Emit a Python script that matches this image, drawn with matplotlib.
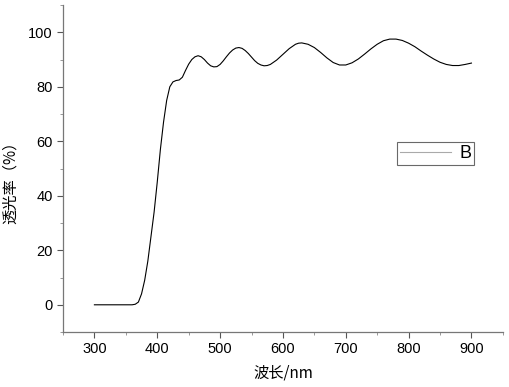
import matplotlib
matplotlib.use("Agg")
import matplotlib.pyplot as plt
from matplotlib.ticker import MultipleLocator

plt.rcParams['font.family'] = ['Liberation Sans', 'Noto Sans CJK SC', 'DejaVu Sans']

# transmittance spectrum
wavelength = [300, 310, 320, 330, 340, 350, 360, 365, 370, 375, 380, 385, 390, 395,
              400, 405, 410, 415, 420, 425, 430, 435, 440, 445, 450, 455, 460, 465,
              470, 475, 480, 485, 490, 495, 500, 505, 510, 515, 520, 525, 530, 535,
              540, 545, 550, 555, 560, 565, 570, 575, 580, 590, 600, 610, 620, 625,
              630, 640, 650, 660, 670, 680, 690, 700, 710, 720, 730, 740, 750, 760,
              770, 780, 790, 800, 810, 820, 830, 840, 850, 860, 870, 880, 890, 900]
transmit = [0, 0, 0, 0, 0, 0, 0, 0.2, 1, 4, 9, 16, 25, 34,
            45, 57, 67, 75, 80, 81.8, 82.3, 82.5, 83.5, 86, 88.3, 90, 91, 91.4,
            91, 90, 88.7, 87.7, 87.3, 87.4, 88.2, 89.5, 91, 92.4, 93.5, 94.2, 94.4, 94.1,
            93.3, 92.2, 90.9, 89.6, 88.6, 88, 87.7, 87.8, 88.2, 89.8, 91.9, 94, 95.6, 96,
            96.1, 95.6, 94.4, 92.6, 90.6, 88.9, 88, 88, 88.8, 90.2, 92, 93.9, 95.6, 96.9,
            97.5, 97.5, 97, 96, 94.7, 93.1, 91.6, 90.2, 89, 88.2, 87.8, 87.8, 88.2, 88.7]

fig = plt.figure(figsize=(5.10, 3.87), dpi=100)
ax = fig.add_axes([0.1235, 0.142, 0.8625, 0.845])
ax.plot(wavelength, transmit, color="black", lw=0.8, label="B")

ax.set_xlim(250, 950)
ax.set_ylim(-10, 110)
ax.xaxis.set_minor_locator(MultipleLocator(50))
ax.yaxis.set_minor_locator(MultipleLocator(10))
ax.set_xticks(range(300, 1000, 100))
ax.set_yticks(range(0, 120, 20))
ax.tick_params(which="major", direction="out", length=4, width=0.8, labelsize=10.5, color="#555555")
ax.tick_params(which="minor", direction="out", length=2, width=0.6, color="#888888")
for s in ("top", "right"):
    ax.spines[s].set_visible(False)
for s in ("left", "bottom"):
    ax.spines[s].set_color("#777777")
    ax.spines[s].set_linewidth(0.9)

ax.set_xlabel("波长/nm", fontsize=11, family=['Noto Sans CJK SC', 'Liberation Sans'], labelpad=6)
ax.set_ylabel("透光率（%）", fontsize=11, family=['Noto Sans CJK SC', 'Liberation Sans'])
ax.yaxis.set_label_coords(-0.1, 0.47)

leg = ax.legend(loc="upper left", bbox_to_anchor=(0.76, 0.58), fontsize=13, frameon=True,
                fancybox=False, handlelength=2.8, borderpad=0.15, handletextpad=0.5,
                borderaxespad=0)
leg.get_frame().set_edgecolor("#444444")
leg.get_frame().set_linewidth(0.8)
leg.get_lines()[0].set_color("#aaaaaa")

fig.savefig("out.png", dpi=100)
